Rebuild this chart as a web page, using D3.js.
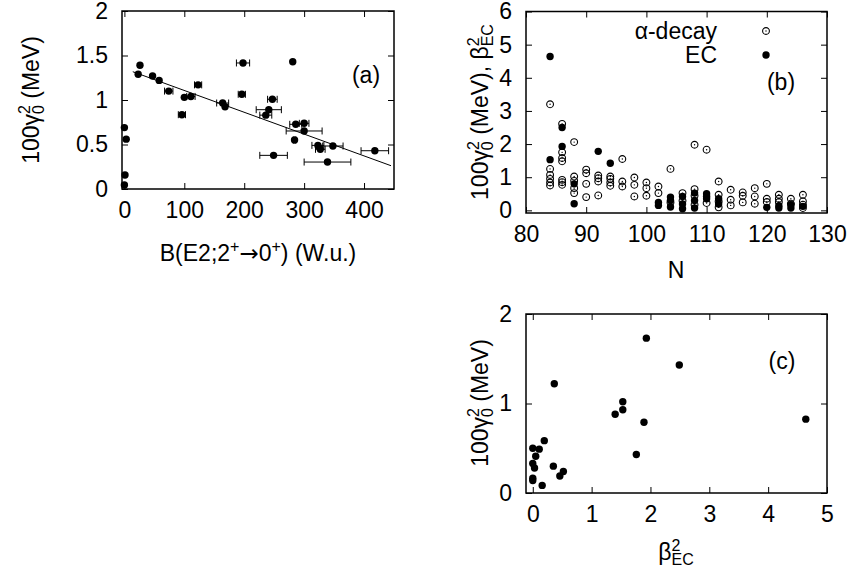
<!DOCTYPE html>
<html>
<head>
<meta charset="utf-8">
<script src="https://cdn.jsdelivr.net/npm/d3@7"></script>
<style>
  body { margin: 0; background: #fff; }
  text { font-family: "Liberation Sans", Arial, sans-serif; fill: #000; }
</style>
</head>
<body>
<div id="chart"></div>
<script>
// panel (a): gamma vs B(E2)
var aB   = [0, 3, 1, 0, 23, 26, 47, 58, 74, 96, 100, 111, 123, 164, 168, 196, 198, 236, 241, 247, 249, 281, 284, 286, 300, 300, 323, 327, 348, 339, 418];
var aG   = [0.69, 0.56, 0.157, 0.045, 1.29, 1.39, 1.27, 1.22, 1.10, 0.835, 1.03, 1.04, 1.17, 0.966, 0.925, 1.064, 1.416, 0.83, 0.891, 1.008, 0.378, 1.43, 0.55, 0.727, 0.738, 0.652, 0.49, 0.446, 0.483, 0.303, 0.43];
var aErr = [0, 0, 0, 0, 0, 0, 0, 0, 7, 6, 0, 7, 6, 10, 0, 6, 11, 10, 21, 8, 23, 0, 2, 10, 8, 30, 10, 8, 17, 39, 23];
// linear fit in (a)
var fitA = { intercept: 1.352, slope: -0.00245, from: 14, to: 445 };

// panel (b): values vs N
var alphaN = [84, 84, 84, 84, 84, 84,
  86, 86, 86, 86, 86, 86, 86,
  88, 88, 88, 88, 88,
  90, 90, 90, 90,
  92, 92, 92, 92,
  94, 94, 94, 94,
  96, 96, 96,
  98, 98, 98,
  100, 100, 100,
  102, 102,
  104, 104,
  106, 106,
  108, 108, 108, 108,
  110, 110,
  112, 112, 112, 112,
  114, 114, 114,
  116, 116, 116,
  118, 118, 118,
  120, 120, 120,
  122, 122, 122,
  124, 124,
  126, 126, 126, 126];
var alphaV = [3.2, 1.25, 1.07, 0.95, 0.84, 0.75,
  2.61, 1.75, 1.58, 1.48, 0.92, 0.85, 0.77,
  2.06, 1.02, 0.89, 0.67, 0.52,
  1.23, 1.12, 0.8, 0.4,
  1.05, 0.97, 0.87, 0.45,
  1.02, 0.95, 0.84, 0.74,
  1.55, 0.87, 0.72,
  0.99, 0.77, 0.42,
  0.84, 0.67, 0.44,
  0.72, 0.52,
  1.25, 0.24,
  0.52, 0.29,
  1.98, 0.64, 0.44, 0.17,
  1.83, 0.22,
  0.87, 0.47, 0.27, 0.09,
  0.62, 0.32, 0.15,
  0.54, 0.44, 0.24,
  0.67, 0.42, 0.20,
  0.80, 0.35, 0.25,
  0.47, 0.35, 0.25,
  0.35, 0.2,
  0.47, 0.27, 0.17, 0.07];
var ecN = [84, 84, 86, 86, 88, 88, 92, 94, 102, 102, 104, 104, 104, 106, 106, 106, 108, 108, 108, 110, 110, 110, 112, 112, 120, 122, 122, 124, 124, 126];
var ecV = [4.64, 1.53, 2.5, 1.93, 0.8, 0.2, 1.78, 1.42, 0.24, 0.15, 0.4, 0.3, 0.1, 0.42, 0.19, 0.05, 0.52, 0.30, 0.07, 0.50, 0.42, 0.35, 0.35, 0.19, 0.09, 0.14, 0.07, 0.17, 0.07, 0.12];

// panel (c): gamma vs beta_EC^2
var cX = [1.93, 0.366, 1.53, 1.53, 1.40, 1.89, 1.76, 0.196, 0.0, 0.11, 0.05, 0.0, 0.03, 0.35, 0.52, 0.46, 0.0, 0.0, 0.16, 2.49, 4.64];
var cY = [1.73, 1.22, 1.02, 0.93, 0.88, 0.79, 0.43, 0.585, 0.50, 0.49, 0.41, 0.33, 0.28, 0.30, 0.24, 0.19, 0.165, 0.14, 0.085, 1.43, 0.825];

// tick values
var aXTicks = [0, 100, 200, 300, 400];
var aYTicks = [0, 0.5, 1, 1.5, 2];
var bXTicks = [80, 90, 100, 110, 120, 130];
var bYTicks = [0, 1, 2, 3, 4, 5, 6];
var cXTicks = [0, 1, 2, 3, 4, 5];
var cYTicks = [0, 1, 2];

var FS = 23, SUB = 16;

var svg = d3.select("#chart").append("svg")
  .attr("width", 852)
  .attr("height", 576);

// draws frame + inward ticks on all sides
function drawFrame(x, y, xt, yt) {
  var g = svg.append("g");
  var x0 = x.range()[0], x1 = x.range()[1];
  var y0 = y.range()[0], y1 = y.range()[1];

  var fmt = function(d) { return String(d); };
  g.append("g").attr("transform", `translate(0,${y0})`)
    .call(d3.axisBottom(x).tickValues(xt).tickFormat(fmt).tickSizeInner(-6).tickSizeOuter(0).tickPadding(13));
  g.append("g").attr("transform", `translate(0,${y1})`)
    .call(d3.axisTop(x).tickValues(xt).tickFormat("").tickSizeInner(-6).tickSizeOuter(0));
  g.append("g").attr("transform", `translate(${x0},0)`)
    .call(d3.axisLeft(y).tickValues(yt).tickFormat(fmt).tickSizeInner(-6).tickSizeOuter(0).tickPadding(14));
  g.append("g").attr("transform", `translate(${x1},0)`)
    .call(d3.axisRight(y).tickValues(yt).tickFormat("").tickSizeInner(-6).tickSizeOuter(0));

  g.selectAll(".domain").remove();
  g.selectAll(".tick line").attr("stroke", "#000").attr("stroke-width", 1);
  g.selectAll(".tick text")
    .attr("font-size", FS)
    .attr("font-family", "Liberation Sans, Arial, sans-serif")
    .attr("fill", "#000");

  g.append("rect")
    .attr("x", x0).attr("y", y1)
    .attr("width", x1 - x0).attr("height", y0 - y1)
    .attr("fill", "none").attr("stroke", "#000").attr("stroke-width", 1.5);
  return g;
}

function gammaLabel(t, tail) {
  t.append("tspan").text("100γ");
  t.append("tspan").attr("font-size", SUB).attr("dy", -9).text("2");
  t.append("tspan").attr("font-size", SUB).attr("dx", -9).attr("dy", 14).text("0");
  t.append("tspan").attr("dy", -5).text(" (MeV)" + (tail ? ", β" : ""));
  if (tail) {
    t.append("tspan").attr("font-size", SUB).attr("dy", -9).text("2");
    t.append("tspan").attr("font-size", SUB).attr("dx", -9).attr("dy", 14).text("EC");
  }
}

// ---------- panel (a) ----------
var xA = d3.scaleLinear().domain([-4, 450]).range([122, 394]);
var yA = d3.scaleLinear().domain([0, 2]).range([189, 11]);
drawFrame(xA, yA, aXTicks, aYTicks);

var dataA = aB.map(function(b, i) { return { b: b, g: aG[i], e: aErr[i] }; });

svg.append("line")
  .attr("x1", xA(fitA.from)).attr("y1", yA(fitA.intercept + fitA.slope * fitA.from))
  .attr("x2", xA(fitA.to)).attr("y2", yA(fitA.intercept + fitA.slope * fitA.to))
  .attr("stroke", "#000").attr("stroke-width", 1);

var errA = svg.append("g").attr("stroke", "#000").attr("stroke-width", 1)
  .selectAll("g").data(dataA.filter(function(d) { return d.e > 0; })).enter().append("g");
errA.append("line")
  .attr("x1", d => xA(d.b - d.e)).attr("x2", d => xA(d.b + d.e))
  .attr("y1", d => yA(d.g)).attr("y2", d => yA(d.g));
errA.append("line")
  .attr("x1", d => xA(d.b - d.e)).attr("x2", d => xA(d.b - d.e))
  .attr("y1", d => yA(d.g) - 3.5).attr("y2", d => yA(d.g) + 3.5);
errA.append("line")
  .attr("x1", d => xA(d.b + d.e)).attr("x2", d => xA(d.b + d.e))
  .attr("y1", d => yA(d.g) - 3.5).attr("y2", d => yA(d.g) + 3.5);

svg.append("g").selectAll("circle").data(dataA).enter().append("circle")
  .attr("cx", d => xA(d.b)).attr("cy", d => yA(d.g))
  .attr("r", 3.7).attr("fill", "#000");

svg.append("text").attr("x", 366).attr("y", 83).attr("text-anchor", "middle")
  .attr("font-size", FS).text("(a)");

var ylA = svg.append("text").attr("font-size", FS).attr("text-anchor", "middle")
  .attr("transform", "translate(39,100) rotate(-90)");
gammaLabel(ylA, false);

var xlA = svg.append("text").attr("font-size", FS).attr("text-anchor", "middle")
  .attr("x", 258).attr("y", 261);
xlA.append("tspan").text("B(E2;2");
xlA.append("tspan").attr("font-size", SUB).attr("dy", -9).text("+");
xlA.append("tspan").attr("dy", 9).attr("font-family", "DejaVu Sans").text("→");
xlA.append("tspan").text("0");
xlA.append("tspan").attr("font-size", SUB).attr("dy", -9).text("+");
xlA.append("tspan").attr("dy", 9).text(") (W.u.)");

// ---------- panel (b) ----------
var xB = d3.scaleLinear().domain([80, 130]).range([526, 827]);
var yB = d3.scaleLinear().domain([-0.08, 6]).range([213, 11.5]);
drawFrame(xB, yB, bXTicks, bYTicks);

var alphaData = alphaN.map(function(n, i) { return { n: n, v: alphaV[i] }; });
var ecData = ecN.map(function(n, i) { return { n: n, v: ecV[i] }; });

function openMark(sel) {
  sel.append("circle").attr("r", 3.4).attr("fill", "none")
    .attr("stroke", "#000").attr("stroke-width", 1.1);
  sel.append("circle").attr("r", 0.7).attr("fill", "#000");
}

svg.append("g").selectAll("g").data(alphaData).enter().append("g")
  .attr("transform", d => `translate(${xB(d.n)},${yB(d.v)})`)
  .call(openMark);

svg.append("g").selectAll("circle").data(ecData).enter().append("circle")
  .attr("cx", d => xB(d.n)).attr("cy", d => yB(d.v))
  .attr("r", 3.7).attr("fill", "#000");

// legend
svg.append("text").attr("x", 717).attr("y", 39).attr("text-anchor", "end")
  .attr("font-size", FS).text("α-decay");
svg.append("text").attr("x", 717).attr("y", 63).attr("text-anchor", "end")
  .attr("font-size", FS).text("EC");
svg.append("g").attr("transform", "translate(766,31)").call(openMark);
svg.append("circle").attr("cx", 766).attr("cy", 55).attr("r", 3.7).attr("fill", "#000");

svg.append("text").attr("x", 781).attr("y", 90).attr("text-anchor", "middle")
  .attr("font-size", FS).text("(b)");

var ylB = svg.append("text").attr("font-size", FS).attr("text-anchor", "middle")
  .attr("transform", "translate(488,112) rotate(-90)");
gammaLabel(ylB, true);

svg.append("text").attr("x", 676).attr("y", 278).attr("text-anchor", "middle")
  .attr("font-size", FS).text("N");

// ---------- panel (c) ----------
var xC = d3.scaleLinear().domain([-0.115, 5]).range([526, 827]);
var yC = d3.scaleLinear().domain([0, 2]).range([493, 314]);
drawFrame(xC, yC, cXTicks, cYTicks);

var dataC = cX.map(function(x, i) { return { x: x, y: cY[i] }; });
svg.append("g").selectAll("circle").data(dataC).enter().append("circle")
  .attr("cx", d => xC(d.x)).attr("cy", d => yC(d.y))
  .attr("r", 3.7).attr("fill", "#000");

svg.append("text").attr("x", 782).attr("y", 369).attr("text-anchor", "middle")
  .attr("font-size", FS).text("(c)");

var ylC = svg.append("text").attr("font-size", FS).attr("text-anchor", "middle")
  .attr("transform", "translate(488,403) rotate(-90)");
gammaLabel(ylC, false);

var xlC = svg.append("text").attr("font-size", FS).attr("text-anchor", "middle")
  .attr("x", 676).attr("y", 560);
xlC.append("tspan").text("β");
xlC.append("tspan").attr("font-size", SUB).attr("dy", -9).text("2");
xlC.append("tspan").attr("font-size", SUB).attr("dx", -9).attr("dy", 14).text("EC");
</script>
</body>
</html>
